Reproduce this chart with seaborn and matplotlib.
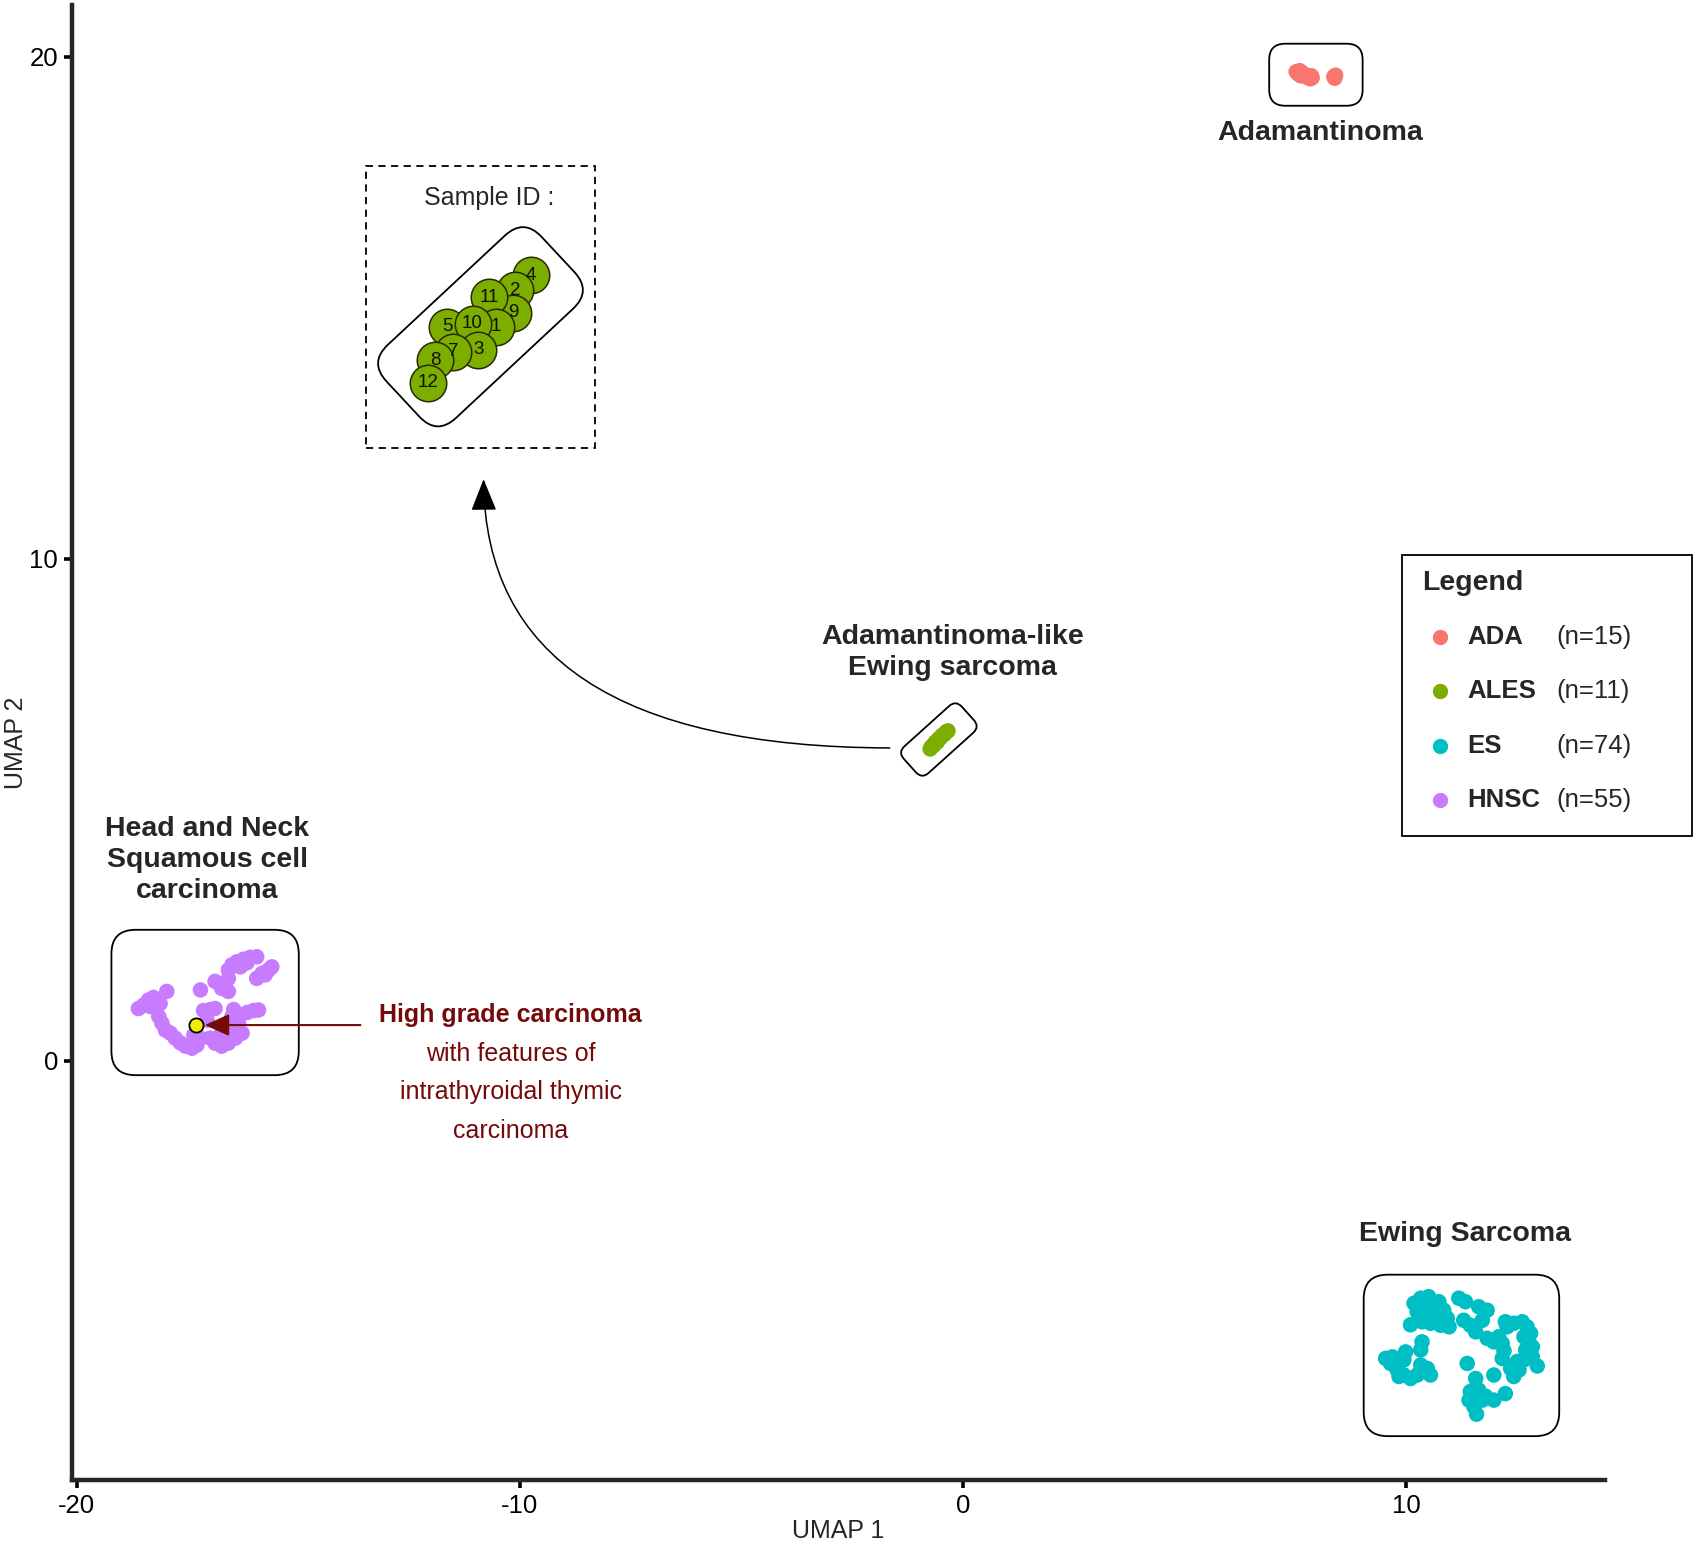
"""
UMAP of sarcoma / carcinoma methylation profiles with cluster call-outs
"""

import numpy as np
import pandas as pd
import matplotlib
matplotlib.use('Agg')
import matplotlib.pyplot as plt
import seaborn as sns
from matplotlib.patches import FancyBboxPatch, FancyArrowPatch, Rectangle
from matplotlib.transforms import Affine2D

# ---- data -------------------------------------------------------------
groups = ['ADA', 'ALES', 'ES', 'HNSC']
group_n = [15, 11, 74, 55]
colors = ['#F8766D', '#7CAE00', '#00BFC4', '#C77CFF']

ada_x = [7.52, 7.56, 7.60, 7.62, 7.66, 7.70, 7.74, 7.80, 7.84, 7.88, 7.86, 7.78, 8.37, 8.41, 8.39]
ada_y = [19.70, 19.66, 19.72, 19.62, 19.68, 19.64, 19.60, 19.58, 19.56, 19.58, 19.62, 19.62, 19.60, 19.63, 19.57]

ales_x = [-0.74, -0.71, -0.66, -0.63, -0.58, -0.55, -0.51, -0.47, -0.42, -0.38, -0.34]
ales_y = [6.21, 6.26, 6.28, 6.34, 6.35, 6.41, 6.43, 6.48, 6.50, 6.55, 6.57]

es_x = [10.18, 10.33, 10.51, 10.25, 10.44, 10.59, 10.10, 10.36, 10.55, 10.74,
        10.85, 10.93, 10.97, 10.78, 11.19, 11.34, 11.64, 11.83, 11.30, 11.45,
        11.57, 11.72, 11.83, 11.98, 12.09, 12.24, 12.43, 12.62, 12.73, 12.81,
        12.77, 12.70, 12.85, 12.96, 12.66, 12.55, 12.43, 12.17, 12.21, 12.17,
        9.54, 9.65, 9.80, 9.95, 10.10, 9.99, 9.95, 10.25, 10.33, 10.48,
        10.55, 10.36, 10.33, 9.84, 11.38, 11.57, 11.45, 11.64, 11.79, 11.98,
        12.24, 11.98, 11.53, 11.59, 11.42, 12.51, 12.66, 12.28, 10.67, 10.25,
        9.69, 12.36, 11.72, 12.85]
es_y = [-4.83, -4.73, -4.70, -5.00, -4.97, -5.10, -5.26, -5.20, -5.23, -4.80,
        -4.97, -5.13, -5.30, -5.27, -4.73, -4.80, -4.90, -4.97, -5.17, -5.27,
        -5.40, -5.17, -5.53, -5.60, -5.50, -5.20, -5.23, -5.20, -5.30, -5.43,
        -5.60, -5.76, -5.90, -6.08, -5.96, -6.16, -6.29, -5.63, -5.78, -5.93,
        -5.93, -6.03, -6.16, -6.26, -6.33, -5.80, -5.96, -6.26, -6.06, -6.13,
        -6.26, -5.60, -5.76, -6.29, -6.03, -6.33, -6.59, -6.56, -6.68, -6.76,
        -6.63, -6.26, -6.89, -7.04, -6.76, -5.99, -5.50, -5.30, -4.90, -4.83,
        -5.90, -6.13, -6.76, -5.70]

hnsc_x = [-16.58, -16.50, -16.39, -16.24, -16.09, -15.94, -16.58, -16.31,
          -15.94, -15.82, -15.67, -15.60, -15.75,
          -17.21, -16.88, -16.73, -16.58,
          -18.61, -18.49, -18.38, -18.27, -18.34, -17.97,
          -18.15, -18.08, -18.00, -17.89, -17.78, -17.67, -17.55, -17.40, -17.29, -17.21, -17.36,
          -17.14, -16.99, -16.88,
          -16.46, -16.50, -16.58, -16.42, -16.27, -16.16, -16.01, -15.90,
          -16.88, -16.73, -16.58, -16.42, -16.99, -16.76,
          -17.06, -16.35, -18.12, -16.16]
hnsc_y = [1.81, 1.91, 1.97, 2.02, 2.06, 2.07, 1.64, 1.87,
          1.64, 1.74, 1.81, 1.87, 1.71,
          1.41, 1.58, 1.44, 1.38,
          1.04, 1.11, 1.21, 1.26, 1.08, 1.38,
          0.88, 0.75, 0.61, 0.55, 0.45, 0.36, 0.29, 0.25, 0.31, 0.45, 0.51,
          1.00, 1.02, 1.04,
          1.02, 0.88, 0.75, 0.61, 0.55, 0.96, 1.00, 1.01,
          0.35, 0.29, 0.35, 0.45, 0.45, 0.51,
          0.81, 0.75, 1.14, 1.95]

# highlighted HNSC-like case
case_x, case_y = -17.30, 0.71

# zoomed ALES samples (inset)
sample_ids = ['4', '2', '9', '11', '1', '5', '10', '3', '7', '8', '12']
sample_x = [-9.76, -10.10, -10.15, -10.69, -10.55, -11.64, -11.07, -10.94, -11.50, -11.91, -12.07]
sample_y = [15.65, 15.35, 14.90, 15.21, 14.62, 14.62, 14.68, 14.16, 14.12, 13.95, 13.50]

xticks = [-20, -10, 0, 10]
yticks = [0, 10, 20]

# ---- style ------------------------------------------------------------
sns.set_style('ticks')
plt.rcParams['font.family'] = ['Liberation Sans', 'DejaVu Sans']
plt.rcParams['axes.unicode_minus'] = False

BLACK = '#000000'
DARKRED = '#750A0A'

fig = plt.figure(figsize=(16.97, 15.44), dpi=100)
ax = fig.add_axes([0.0424, 0.0415, 0.9034, 0.9553])
ax.set_xlim(-20.11, 14.49)
ax.set_ylim(-8.35, 21.03)

df = pd.concat([
    pd.DataFrame({'umap1': ada_x, 'umap2': ada_y, 'group': 'ADA'}),
    pd.DataFrame({'umap1': ales_x, 'umap2': ales_y, 'group': 'ALES'}),
    pd.DataFrame({'umap1': es_x, 'umap2': es_y, 'group': 'ES'}),
    pd.DataFrame({'umap1': hnsc_x, 'umap2': hnsc_y, 'group': 'HNSC'}),
], ignore_index=True)

sns.scatterplot(data=df, x='umap1', y='umap2', hue='group', hue_order=groups,
                palette=dict(zip(groups, colors)), s=125, edgecolor='none',
                legend=False, ax=ax, zorder=3)

# highlighted case
ax.scatter([case_x], [case_y], s=105, color='#F2EC00', edgecolor=BLACK,
           linewidth=1.3, zorder=5)

# inset circles with sample ids
sns.scatterplot(x=sample_x, y=sample_y, s=690, color='#7CAE00',
                edgecolor='#2A2A00', linewidth=1.1, ax=ax, zorder=4)
for sid, sx, sy in zip(sample_ids, sample_x, sample_y):
    ax.text(sx, sy, sid, ha='center', va='center', fontsize=13.5, color='#111100', zorder=6)

ax.set_xticks(xticks)
ax.set_yticks(yticks)
sns.despine(ax=ax)
for side in ['left', 'bottom']:
    ax.spines[side].set_linewidth(3.2)
ax.tick_params(labelsize=18.5, length=6, width=2.6, pad=4, colors=BLACK)
ax.set_xlabel('UMAP 1', fontsize=18, labelpad=1)
ax.set_ylabel('UMAP 2', fontsize=18, labelpad=1)


# ---- rounded boxes, drawn in pixel space so corners stay round ----------
def px_box(cx, cy, w, h, angle=0, r=20, **kw):
    px, py = ax.transData.transform((cx, cy))
    box = FancyBboxPatch((-w / 2, -h / 2), w, h,
                         boxstyle=f'round,pad=0,rounding_size={r}',
                         transform=Affine2D().rotate_deg(angle).translate(px, py),
                         fill=False, edgecolor=BLACK, linewidth=1.3, zorder=2, **kw)
    ax.add_patch(box)


def cluster_box(xs, ys, pad=26, r=22):
    x0, y0 = ax.transData.transform((min(xs), min(ys)))
    x1, y1 = ax.transData.transform((max(xs), max(ys)))
    cx, cy = ax.transData.inverted().transform(((x0 + x1) / 2, (y0 + y1) / 2))
    px_box(cx, cy, x1 - x0 + 2 * pad, y1 - y0 + 2 * pad, r=r)


cluster_box(ada_x, ada_y, pad=27, r=16)
cluster_box(es_x, es_y, pad=22, r=24)
cluster_box(hnsc_x, hnsc_y, pad=27, r=24)
px_box(np.mean(ales_x), np.mean(ales_y), 78, 36, angle=42, r=9)
px_box(-10.89, 14.62, 212, 100, angle=43, r=26)

# dashed inset frame
ax.add_patch(Rectangle((-13.47, 12.21), 5.17, 5.61, fill=False, edgecolor=BLACK,
                       linewidth=1.3, linestyle=(0, (4, 3)), zorder=2))
ax.text(-10.69, 17.18, 'Sample ID :', ha='center', va='center', fontsize=18)

# curved arrow from ALES cluster to inset
ax.add_patch(FancyArrowPatch((-1.59, 6.23), (-10.82, 11.64),
                             connectionstyle='angle3,angleA=180,angleB=90',
                             arrowstyle='-|>,head_length=1.0,head_width=0.4',
                             mutation_scale=20, color=BLACK, linewidth=1.1, zorder=2))

# arrow to highlighted case
ax.add_patch(FancyArrowPatch((-13.60, case_y), (case_x, case_y),
                             arrowstyle='-|>,head_length=1.0,head_width=0.45',
                             mutation_scale=15, color=DARKRED, linewidth=1.5,
                             shrinkA=0, shrinkB=6, zorder=6))

# ---- cluster labels ----------------------------------------------------
lab = dict(ha='center', va='center', fontsize=20.5, fontweight='bold', linespacing=1.25)
ax.text(8.07, 18.48, 'Adamantinoma', **lab)
ax.text(-0.24, 8.14, 'Adamantinoma-like\nEwing sarcoma', **lab)
ax.text(-17.06, 4.00, 'Head and Neck\nSquamous cell\ncarcinoma', **lab)
ax.text(11.32, -3.45, 'Ewing Sarcoma', **lab)

case_lines = ['High grade carcinoma', 'with features of', 'intrathyroidal thymic', 'carcinoma']
for i, line in enumerate(case_lines):
    ax.text(-10.21, 0.91 - i * 0.77, line, ha='center', va='center', fontsize=18,
            color=DARKRED, fontweight='bold' if i == 0 else 'normal')

# ---- legend (drawn by hand to align the counts) -------------------------
ax.add_patch(Rectangle((0.8676, 0.4366), 0.1892, 0.1905, transform=ax.transAxes,
                       fill=False, edgecolor=BLACK, linewidth=1.3, clip_on=False))
ax.text(0.8806, 0.6081, 'Legend', transform=ax.transAxes, ha='left', va='center',
        fontsize=20.5, fontweight='bold')
for i, (name, n, col) in enumerate(zip(groups, group_n, colors)):
    yy = 0.5715 - i * 0.0368
    ax.scatter([0.8924], [yy], s=100, color=col, transform=ax.transAxes, clip_on=False)
    ax.text(0.9100, yy, name, transform=ax.transAxes, ha='left', va='center',
            fontsize=18.5, fontweight='bold')
    ax.text(0.9680, yy, f'(n={n})', transform=ax.transAxes, ha='left', va='center',
            fontsize=18.5)

fig.savefig('out.png', dpi=100)
plt.close(fig)
